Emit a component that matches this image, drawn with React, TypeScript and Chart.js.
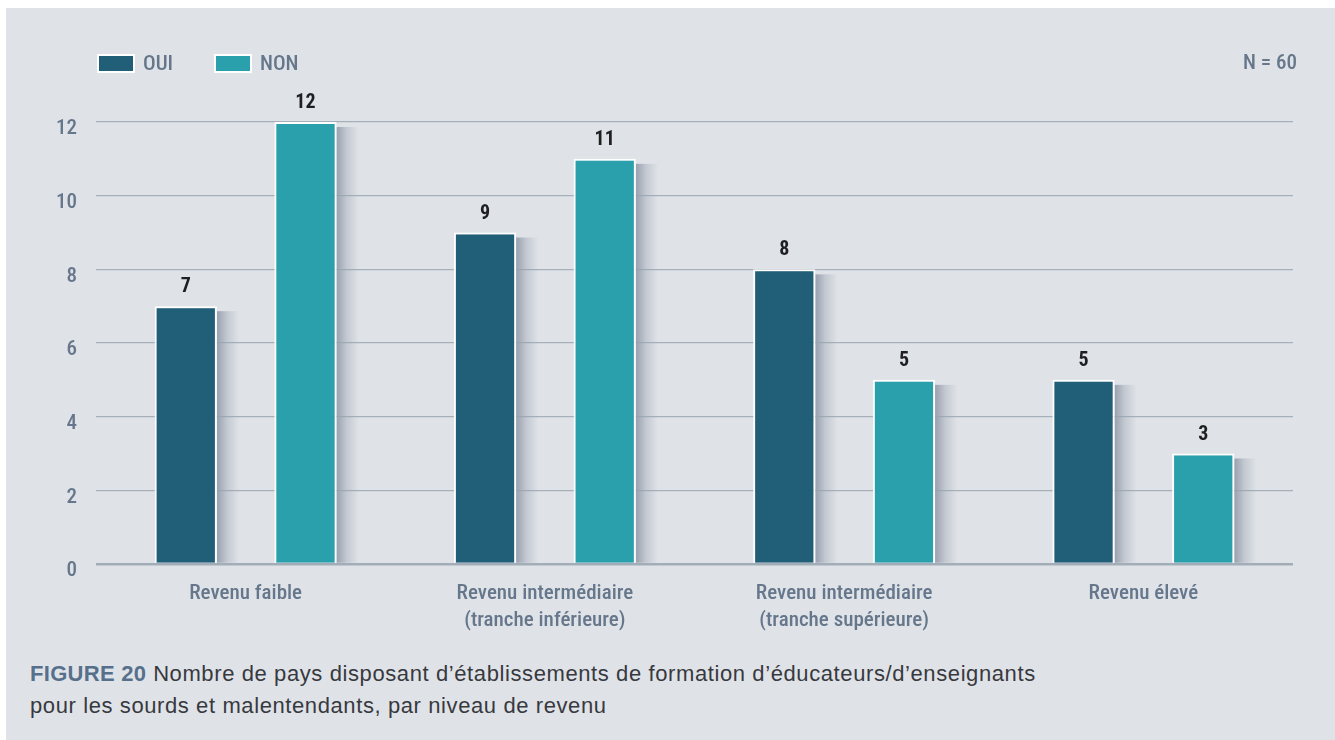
import React, { useEffect, useRef } from "react";
import { Chart, registerables } from "chart.js";

Chart.register(...registerables);

const categories: string[][] = [
  ["Revenu faible"],
  ["Revenu intermédiaire", "(tranche inférieure)"],
  ["Revenu intermédiaire", "(tranche supérieure)"],
  ["Revenu élevé"],
];
const seriesNames = ["OUI", "NON"];
const ouiValues = [7, 9, 8, 5];
const nonValues = [12, 11, 5, 3];
const yTicks = [0, 2, 4, 6, 8, 10, 12];

const OUI_COLOR = "#215e78";
const NON_COLOR = "#29a0ac";
const BG = "#dfe3e8";
const TICK_COLOR = "#66778c";
const NARROW = "'Roboto Condensed', 'DejaVu Sans Condensed', sans-serif";
const SANS = "'Liberation Sans', Arial, sans-serif";

// soft drop shadow to the right of the bars, drawn before the grid so gridlines lie over it
const shadowPlugin = {
  id: "barShadow",
  beforeDraw(chart: any) {
    const ctx = chart.ctx;
    ctx.save();
    chart.data.datasets.forEach((_ds: any, di: number) => {
      const meta = chart.getDatasetMeta(di);
      meta.data.forEach((bar: any) => {
        const right = bar.x + bar.width / 2;
        const top = bar.y;
        const base = bar.base;
        const sw = 22;
        const g = ctx.createLinearGradient(right, 0, right + sw, 0);
        g.addColorStop(0, "rgba(95, 106, 128, 0.55)");
        g.addColorStop(0.45, "rgba(95, 106, 128, 0.22)");
        g.addColorStop(1, "rgba(95, 106, 128, 0)");
        ctx.fillStyle = g;
        ctx.fillRect(right, top + 5, sw, base - top - 5);
      });
    });
    ctx.restore();
  },
};

const valueLabelPlugin = {
  id: "valueLabels",
  afterDatasetsDraw(chart: any) {
    const ctx = chart.ctx;
    ctx.save();
    ctx.font = `bold 20px ${NARROW}`;
    ctx.fillStyle = "#1f1f22";
    ctx.textAlign = "center";
    ctx.textBaseline = "middle";
    chart.data.datasets.forEach((ds: any, di: number) => {
      const meta = chart.getDatasetMeta(di);
      meta.data.forEach((bar: any, i: number) => {
        ctx.fillText(String(ds.data[i]), bar.x, bar.y - 19);
      });
    });
    ctx.restore();
  },
};

function BarChart() {
  const ref = useRef<HTMLCanvasElement | null>(null);
  useEffect(() => {
    if (!ref.current) return;
    const chart = new Chart(ref.current, {
      type: "bar",
      data: {
        labels: categories,
        datasets: [
          {
            label: seriesNames[0],
            data: ouiValues,
            backgroundColor: OUI_COLOR,
            borderColor: "#ffffff",
            borderWidth: 2,
            borderSkipped: "bottom",
            categoryPercentage: 0.8,
            barPercentage: 0.52,
          },
          {
            label: seriesNames[1],
            data: nonValues,
            backgroundColor: NON_COLOR,
            borderColor: "#ffffff",
            borderWidth: 2,
            borderSkipped: "bottom",
            categoryPercentage: 0.8,
            barPercentage: 0.52,
          },
        ],
      },
      options: {
        responsive: false,
        animation: false,
        layout: { padding: { top: 114, right: 42, left: 0, bottom: 0 } },
        plugins: {
          legend: { display: false },
          tooltip: { enabled: false },
        },
        scales: {
          x: {
            grid: { display: false, drawTicks: false },
            border: { display: false },
            ticks: {
              color: TICK_COLOR,
              font: { family: NARROW, size: 21, weight: 500, lineHeight: 1.25 },
              padding: 17,
              maxRotation: 0,
              autoSkip: false,
            },
            afterFit(s: any) {
              s.height = 76;
            },
          },
          y: {
            min: 0,
            max: 12,
            afterBuildTicks(s: any) {
              s.ticks = yTicks.map((v) => ({ value: v }));
            },
            grid: {
              drawTicks: false,
              color: (c: any) => (c.tick && c.tick.value === 0 ? "#a2adb8" : "rgba(150,162,175,0.8)"),
              lineWidth: (c: any) => (c.tick && c.tick.value === 0 ? 2.5 : 1.3),
            },
            border: { display: false },
            ticks: {
              color: TICK_COLOR,
              font: { family: NARROW, size: 21, weight: 500 },
              padding: 19,
              labelOffset: 7,
            },
            afterFit(s: any) {
              s.width = 90;
            },
          },
        },
      },
      plugins: [shadowPlugin, valueLabelPlugin],
    });
    return () => chart.destroy();
  }, []);
  return <canvas ref={ref} width={1329} height={632} style={{ position: "absolute", left: 0, top: 0 }} />;
}

function LegendItem({ color, label, left }: { color: string; label: string; left: number }) {
  return (
    <div style={{ position: "absolute", left, top: 43, display: "flex", alignItems: "center" }}>
      <div
        style={{
          width: 34,
          height: 15,
          background: color,
          border: "2px solid #ffffff",
        }}
      />
      <span style={{ marginLeft: 8, fontFamily: NARROW, fontWeight: 500, fontSize: 21, color: TICK_COLOR }}>
        {label}
      </span>
    </div>
  );
}

export default function App() {
  return (
    <div
      style={{
        position: "absolute",
        left: 6,
        top: 8,
        width: 1329,
        height: 732,
        background: BG,
        overflow: "hidden",
      }}
    >
      <BarChart />
      <LegendItem color={OUI_COLOR} label={seriesNames[0]} left={91} />
      <LegendItem color={NON_COLOR} label={seriesNames[1]} left={208} />
      <div
        style={{
          position: "absolute",
          right: 38,
          top: 42,
          fontFamily: NARROW,
          fontWeight: 500,
          fontSize: 21,
          color: TICK_COLOR,
        }}
      >
        N = 60
      </div>
      <div
        style={{
          position: "absolute",
          left: 24,
          top: 650,
          fontFamily: SANS,
          fontSize: 22,
          lineHeight: "32px",
          color: "#38393e",
        }}
      >
        <span style={{ color: "#56708c", fontWeight: "bold", letterSpacing: "0.3px" }}>FIGURE 20</span>
        <span style={{ letterSpacing: "0.6px" }}>
          {"  "}Nombre de pays disposant d’établissements de formation d’éducateurs/d’enseignants
          <br />
          pour les sourds et malentendants, par niveau de revenu
        </span>
      </div>
    </div>
  );
}
